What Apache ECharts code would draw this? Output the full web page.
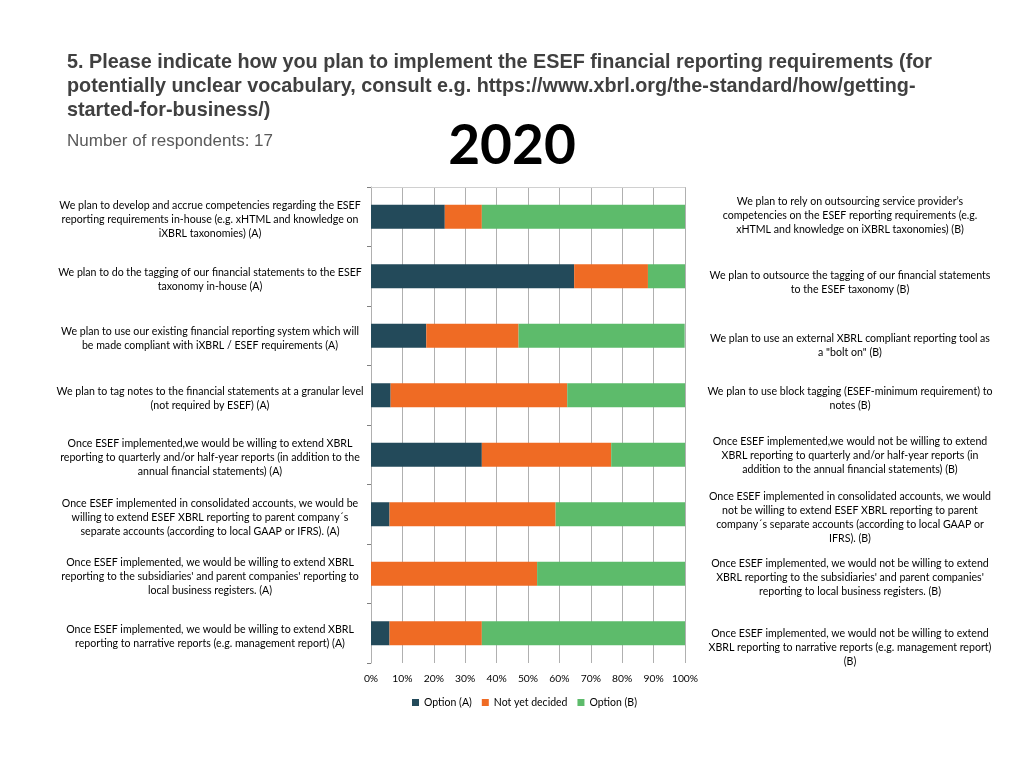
<!DOCTYPE html>
<html>
<head>
<meta charset="utf-8">
<script src="https://cdn.jsdelivr.net/npm/echarts@6/dist/echarts.min.js"></script>
<style>html,body{margin:0;padding:0;background:#fff}#c{width:1024px;height:768px}</style>
</head>
<body>
<div id="c"></div>
<script>
const categoriesA = [
  "We plan to develop and accrue competencies regarding the ESEF\nreporting requirements in-house (e.g. xHTML and knowledge on\niXBRL taxonomies) (A)",
  "We plan to do the tagging of our financial statements to the ESEF\ntaxonomy in-house (A)",
  "We plan to use our existing financial reporting system which will\nbe made compliant with iXBRL / ESEF requirements (A)",
  "We plan to tag notes to the financial statements at a granular level\n(not required by ESEF) (A)",
  "Once ESEF implemented,we would be willing to extend XBRL\nreporting to quarterly and/or half-year reports (in addition to the\nannual financial statements) (A)",
  "Once ESEF implemented in consolidated accounts, we would be\nwilling to extend ESEF XBRL reporting to parent company´s\nseparate accounts (according to local GAAP or IFRS). (A)",
  "Once ESEF implemented, we would be willing to extend XBRL\nreporting to the subsidiaries' and parent companies' reporting to\nlocal business registers. (A)",
  "Once ESEF implemented, we would be willing to extend XBRL\nreporting to narrative reports (e.g. management report) (A)"
];
const categoriesB = [
  "We plan to rely on outsourcing service provider’s\ncompetencies on the ESEF reporting requirements (e.g.\nxHTML and knowledge on iXBRL taxonomies) (B)",
  "We plan to outsource the tagging of our financial statements\nto the ESEF taxonomy (B)",
  "We plan to use an external XBRL compliant reporting tool as\na \"bolt on\" (B)",
  "We plan to use block tagging (ESEF-minimum requirement) to\nnotes (B)",
  "Once ESEF implemented,we would not be willing to extend\nXBRL reporting to quarterly and/or half-year reports (in\naddition to the annual financial statements) (B)",
  "Once ESEF implemented in consolidated accounts, we would\nnot be willing to extend ESEF XBRL reporting to parent\ncompany´s separate accounts (according to local GAAP or\nIFRS). (B)",
  "Once ESEF implemented, we would not be willing to extend\nXBRL reporting to the subsidiaries' and parent companies'\nreporting to local business registers. (B)",
  "Once ESEF implemented, we would not be willing to extend\nXBRL reporting to narrative reports (e.g. management report)\n(B)"
];
const seriesNames = ["Option (A)", "Not yet decided", "Option (B)"];
const optionA  = [23.5, 64.7, 17.6, 6.25, 35.3, 5.9, 0, 5.9];
const notYet   = [11.8, 23.5, 29.4, 56.25, 41.2, 52.9, 52.9, 29.4];
const optionB  = [64.7, 11.8, 52.9, 37.5, 23.5, 41.2, 47.1, 64.7];
const titleText = "5. Please indicate how you plan to implement the ESEF financial reporting requirements (for\npotentially unclear vocabulary, consult e.g. https://www.xbrl.org/the-standard/how/getting-\nstarted-for-business/)";
const subText = "Number of respondents: 17";
const yearText = "2020";

// layout: vertical nudge (px) of the text boxes on each side
const leftShift = [3, 3, 3, 3, 3, 3, 3, 3];
const rightShift = [-1, 6, 10, 3, 1, 3, 4, 14];

const colors = ["#234a5a", "#ef6b24", "#5dbb6b"];
const chart = echarts.init(document.getElementById('c'));
const labelFont = "Lato, 'Open Sans', sans-serif";

function makeRich(shifts) {
  const r = {t: {fontFamily: labelFont, fontSize: 10.6, lineHeight: 14, color: '#000', align: 'center'}};
  shifts.forEach((s, i) => {
    r['g' + i] = {fontSize: 1, lineHeight: Math.max(0, 2 * s), align: 'center'};
    r['h' + i] = {fontSize: 1, lineHeight: Math.max(0, -2 * s), align: 'center'};
  });
  return r;
}
function makeFormatter(shifts) {
  return (v, i) => {
    const s = shifts[i];
    const body = v.split('\n').map(l => '{t|' + l + '}').join('\n');
    if (s > 0) return '{g' + i + '| }\n' + body;
    if (s < 0) return body + '\n{h' + i + '| }';
    return body;
  };
}

chart.setOption({
  animation: false,
  color: colors,
  title: [
    {text: titleText, left: 67, top: 51, padding: 0,
     textStyle: {fontFamily: "'Liberation Sans', Arial", fontWeight: 'bold', fontSize: 19.8, lineHeight: 24, color: '#404040'}},
    {text: subText, left: 67, top: 133, padding: 0,
     textStyle: {fontFamily: "'Liberation Sans', Arial", fontWeight: 'normal', fontSize: 17, color: '#595959'}},
    {text: yearText, left: 'center', top: 114,
     textStyle: {fontFamily: "Lato, sans-serif", fontWeight: 'bold', fontSize: 55, color: '#000'}}
  ],
  legend: {
    top: 692, left: 407, itemWidth: 7, itemHeight: 7, itemGap: 10,
    icon: 'rect',
    textStyle: {fontFamily: labelFont, fontSize: 10.5, color: '#000'},
    data: seriesNames
  },
  grid: {left: 371, right: 339, top: 187, bottom: 105, containLabel: false},
  xAxis: [
    {type: 'value', min: 0, max: 100, interval: 10, position: 'bottom',
     axisLine: {show: false}, axisTick: {show: false},
     axisLabel: {formatter: '{value}%', fontFamily: labelFont, fontSize: 10.3, color: '#000', margin: 11},
     splitLine: {lineStyle: {color: '#b0b0b0', width: 1}}},
    {type: 'value', min: 0, max: 100, interval: 10, position: 'top',
     axisLine: {show: true, lineStyle: {color: '#d0d0d0'}}, axisTick: {show: false},
     axisLabel: {show: false}, splitLine: {show: false}}
  ],
  yAxis: [
    {type: 'category', inverse: true, data: categoriesA, position: 'left',
     axisLine: {show: true, lineStyle: {color: '#b0b0b0'}},
     axisTick: {show: true, length: 4, lineStyle: {color: '#808080'}},
     axisLabel: {align: 'center', margin: 161, rich: makeRich(leftShift), formatter: makeFormatter(leftShift)}},
    {type: 'category', inverse: true, data: categoriesB, position: 'right',
     axisLine: {show: false}, axisTick: {show: false},
     axisLabel: {align: 'center', margin: 165, rich: makeRich(rightShift), formatter: makeFormatter(rightShift)}}
  ],
  series: [
    {name: seriesNames[0], type: 'bar', stack: 'all', data: optionA, barWidth: 24, xAxisIndex: 0, yAxisIndex: 0},
    {name: seriesNames[1], type: 'bar', stack: 'all', data: notYet, barWidth: 24, xAxisIndex: 0, yAxisIndex: 0},
    {name: seriesNames[2], type: 'bar', stack: 'all', data: optionB, barWidth: 24, xAxisIndex: 0, yAxisIndex: 0}
  ]
});
</script>
</body>
</html>
